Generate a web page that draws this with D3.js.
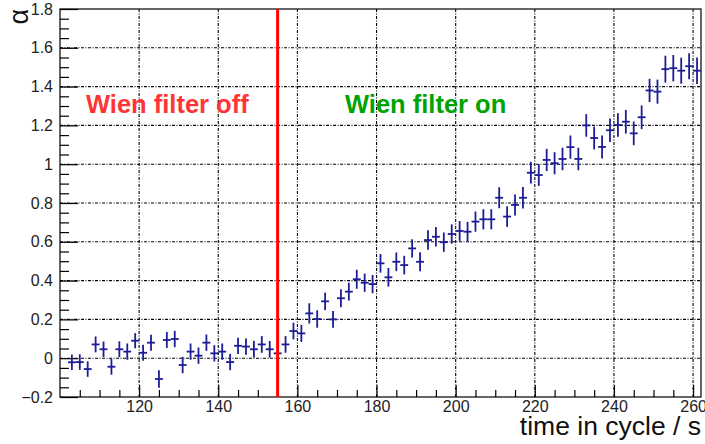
<!DOCTYPE html>
<html>
<head>
<meta charset="utf-8">
<script src="https://cdn.jsdelivr.net/npm/d3@7"></script>
<style>
  body { margin: 0; background: #fff; }
  svg { font-family: "Liberation Sans", Arial, Helvetica, sans-serif; }
  .tick text { fill: #222; font-size: 16px; }
</style>
</head>
<body>
<script>
// Canvas size of the chart
var width = 705;
var height = 444;
var margin = { top: 9, right: 4, bottom: 47, left: 60 };

// Bin centres (s), asymmetry alpha and its error
var times = d3.range(103, 262, 2);
var alpha = [
  -0.021, -0.020, -0.056, 0.071, 0.046, -0.044, 0.046, 0.034, 0.090, 0.028,
  0.080, -0.107, 0.094, 0.099, -0.035, 0.034, 0.013, 0.080, 0.025, 0.034,
  -0.020, 0.064, 0.060, 0.046, 0.071, 0.046, 0.025, 0.071, 0.140, 0.128,
  0.231, 0.202, 0.293, 0.200, 0.309, 0.343, 0.407, 0.389, 0.382, 0.489,
  0.417, 0.497, 0.480, 0.566, 0.497, 0.609, 0.626, 0.598, 0.640, 0.656,
  0.652, 0.704, 0.716, 0.716, 0.827, 0.730, 0.790, 0.827, 0.956, 0.944,
  1.022, 1.005, 1.027, 1.088, 1.027, 1.200, 1.135, 1.089, 1.175, 1.202,
  1.219, 1.159, 1.242, 1.380, 1.374, 1.490, 1.495, 1.482, 1.505, 1.482
];
var alphaErr = [
  0.040, 0.040, 0.040, 0.041, 0.040, 0.041, 0.041, 0.042, 0.039, 0.041,
  0.041, 0.045, 0.041, 0.042, 0.042, 0.042, 0.042, 0.042, 0.042, 0.042,
  0.042, 0.042, 0.042, 0.043, 0.043, 0.043, 0.043, 0.043, 0.043, 0.044,
  0.052, 0.045, 0.045, 0.043, 0.046, 0.046, 0.049, 0.047, 0.047, 0.048,
  0.048, 0.048, 0.048, 0.047, 0.049, 0.050, 0.050, 0.050, 0.050, 0.051,
  0.051, 0.052, 0.052, 0.052, 0.054, 0.053, 0.054, 0.055, 0.056, 0.056,
  0.057, 0.057, 0.058, 0.060, 0.058, 0.058, 0.059, 0.059, 0.060, 0.060,
  0.061, 0.061, 0.061, 0.060, 0.062, 0.069, 0.068, 0.067, 0.067, 0.068
];
var binHalf = 1;
var switchTime = 155;

// Axis ranges and ticks
var xDomain = [100, 262];
var yDomain = [-0.2, 1.8];
var xMajor = d3.range(120, 261, 20);
var xMinor = d3.range(105, 262, 5).filter(function (v) { return v % 20 !== 0; });
var yMajor = d3.range(-2, 19, 2).map(function (v) { return v / 10; });
var yMinor = d3.range(-4, 37, 1).map(function (v) { return v / 20; })
  .filter(function (v) { return Math.abs(v * 5 - Math.round(v * 5)) > 1e-6; });

var svg = d3.select("body")
  .append("svg")
  .attr("width", width)
  .attr("height", height);

var x = d3.scaleLinear().domain(xDomain).range([margin.left, width - margin.right]);
var y = d3.scaleLinear().domain(yDomain).range([height - margin.bottom, margin.top]);

// Dotted grid at the major ticks
var grid = svg.append("g")
  .attr("stroke", "#000")
  .attr("stroke-width", 1.1)
  .attr("stroke-dasharray", "3,1.5,1,1.5");
grid.selectAll(".gx")
  .data(xMajor)
  .enter().append("line")
  .attr("x1", function (d) { return x(d); })
  .attr("x2", function (d) { return x(d); })
  .attr("y1", y(yDomain[0]))
  .attr("y2", y(yDomain[1]));
grid.selectAll(".gy")
  .data(yMajor.filter(function (d) { return d > yDomain[0] && d < yDomain[1]; }))
  .enter().append("line")
  .attr("x1", x(xDomain[0]))
  .attr("x2", x(xDomain[1]))
  .attr("y1", function (d) { return y(d); })
  .attr("y2", function (d) { return y(d); });

// Axes with inward ticks
var fmt = d3.format("~g");
var bottom = height - margin.bottom;

var xAxis = svg.append("g")
  .attr("transform", "translate(0," + bottom + ")")
  .call(d3.axisBottom(x).tickValues(xMajor).tickSize(-12).tickPadding(4).tickFormat(fmt));
svg.append("g")
  .attr("transform", "translate(0," + bottom + ")")
  .call(d3.axisBottom(x).tickValues(xMinor).tickSize(-7).tickFormat(""));

var yAxis = svg.append("g")
  .attr("transform", "translate(" + margin.left + ",0)")
  .call(d3.axisLeft(y).tickValues(yMajor).tickSize(-18).tickPadding(7).tickFormat(fmt));
svg.append("g")
  .attr("transform", "translate(" + margin.left + ",0)")
  .call(d3.axisLeft(y).tickValues(yMinor).tickSize(-9).tickFormat(""));

svg.selectAll(".domain").remove();
svg.selectAll(".tick line").attr("stroke", "#000").attr("stroke-width", 1.2);

// Frame
svg.append("rect")
  .attr("x", x(xDomain[0]))
  .attr("y", y(yDomain[1]))
  .attr("width", x(xDomain[1]) - x(xDomain[0]))
  .attr("height", y(yDomain[0]) - y(yDomain[1]))
  .attr("fill", "none")
  .attr("stroke", "#000")
  .attr("stroke-width", 1.2);

// Data points with error bars
var points = svg.append("g")
  .attr("stroke", "#1c1c96")
  .attr("stroke-width", 1.8);
var pts = points.selectAll("g")
  .data(times)
  .enter().append("g");
pts.append("line")
  .attr("x1", function (d) { return x(d - binHalf); })
  .attr("x2", function (d) { return x(d + binHalf); })
  .attr("y1", function (d, i) { return y(alpha[i]); })
  .attr("y2", function (d, i) { return y(alpha[i]); });
pts.append("line")
  .attr("x1", function (d) { return x(d); })
  .attr("x2", function (d) { return x(d); })
  .attr("y1", function (d, i) { return y(alpha[i] - alphaErr[i]); })
  .attr("y2", function (d, i) { return y(alpha[i] + alphaErr[i]); });

// Vertical line where the Wien filter switches on
svg.append("line")
  .attr("x1", x(switchTime))
  .attr("x2", x(switchTime))
  .attr("y1", y(yDomain[0]))
  .attr("y2", y(yDomain[1]))
  .attr("stroke", "#ff0000")
  .attr("stroke-width", 3);

// Labels
svg.append("text")
  .attr("x", 86)
  .attr("y", 113)
  .attr("fill", "#ff3535")
  .attr("font-weight", "bold")
  .attr("font-size", "25.5px")
  .text("Wien filter off");
svg.append("text")
  .attr("x", 345)
  .attr("y", 113)
  .attr("fill", "#00a300")
  .attr("font-weight", "bold")
  .attr("font-size", "25.5px")
  .text("Wien filter on");

// Axis titles
svg.append("text")
  .attr("x", 701)
  .attr("y", 435)
  .attr("text-anchor", "end")
  .attr("font-size", "26.5px")
  .attr("fill", "#111")
  .text("time in cycle / s");
svg.append("text")
  .attr("transform", "translate(28,9) rotate(-90)")
  .attr("text-anchor", "end")
  .attr("font-size", "27px")
  .attr("fill", "#111")
  .text("α");
</script>
</body>
</html>
